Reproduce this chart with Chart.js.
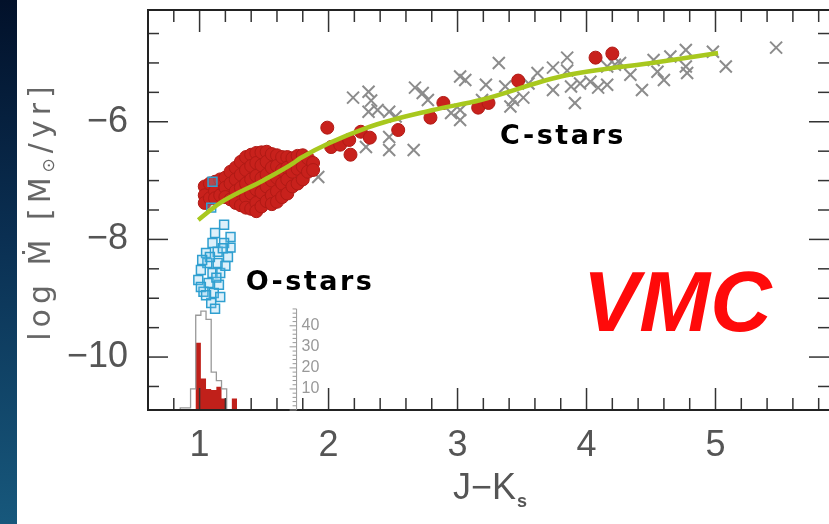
<!DOCTYPE html>
<html>
<head>
<meta charset="utf-8">
<script src="https://cdn.jsdelivr.net/npm/chart.js@4.4.1/dist/chart.umd.min.js"></script>
<style>
  html, body { margin: 0; padding: 0; background: #fff; overflow: hidden; }
  #strip { position: absolute; left: 0; top: 0; width: 17px; height: 524px;
    background: linear-gradient(to bottom, #02112a 0%, #0a2f52 45%, #17587c 100%); }
  #wrap { position: absolute; left: 0; top: 0; width: 829px; height: 524px; }
</style>
</head>
<body>
<div id="strip"></div>
<div id="wrap"><canvas id="myChart" width="829" height="524"></canvas></div>
<script>
// tick labels
const xTicks = [1, 2, 3, 4, 5];
const yTicks = [-10, -8, -6];
const histTicks = [10, 20, 30, 40];

// VMC carbon stars (red dots)
const vmcC = [
  [1.04, -7.10], [1.04, -7.25], [1.04, -7.38], [1.08, -7.05], [1.08, -7.30],
  [1.12, -7.02], [1.12, -7.18], [1.12, -7.30], [1.16, -6.98], [1.16, -7.25],
  [1.20, -6.95], [1.20, -7.12], [1.20, -7.28], [1.24, -6.85], [1.24, -7.05], [1.24, -7.32],
  [1.28, -6.78], [1.28, -6.98], [1.28, -7.18], [1.28, -7.38],
  [1.32, -6.68], [1.32, -6.90], [1.32, -7.12], [1.32, -7.42],
  [1.36, -6.60], [1.36, -6.82], [1.36, -7.05], [1.36, -7.28], [1.36, -7.46],
  [1.40, -6.56], [1.40, -6.75], [1.40, -6.98], [1.40, -7.22], [1.40, -7.48],
  [1.44, -6.53], [1.44, -6.70], [1.44, -6.92], [1.44, -7.15], [1.44, -7.38], [1.44, -7.52],
  [1.48, -6.52], [1.48, -6.74], [1.48, -6.96], [1.48, -7.20], [1.48, -7.44],
  [1.52, -6.51], [1.52, -6.68], [1.52, -6.90], [1.52, -7.10], [1.52, -7.35],
  [1.56, -6.55], [1.56, -6.78], [1.56, -7.00], [1.56, -7.25], [1.56, -7.40],
  [1.60, -6.57], [1.60, -6.75], [1.60, -6.95], [1.60, -7.18], [1.60, -7.36],
  [1.64, -6.60], [1.64, -6.82], [1.64, -7.05], [1.64, -7.28],
  [1.68, -6.60], [1.68, -6.78], [1.68, -6.98], [1.68, -7.22],
  [1.72, -6.62], [1.72, -6.85], [1.72, -7.10],
  [1.76, -6.58], [1.76, -6.80], [1.76, -7.05],
  [1.80, -6.57], [1.80, -6.76], [1.80, -6.98],
  [1.84, -6.62], [1.84, -6.85], [1.88, -6.70], [1.88, -6.82],
  [1.99, -6.10], [2.02, -6.43], [2.09, -6.39], [2.16, -6.31], [2.17, -6.56],
  [2.25, -6.17], [2.32, -6.27], [2.54, -6.14], [2.79, -5.93], [2.89, -5.68],
  [3.16, -5.76], [3.24, -5.68], [3.47, -5.30], [4.07, -4.91], [4.20, -4.84]
];

// other carbon stars (grey crosses)
const otherC = [
  [1.92, -6.94], [2.19, -5.59], [2.29, -6.43], [2.31, -5.49], [2.33, -5.64], [2.31, -5.83],
  [2.38, -5.80], [2.47, -5.83], [2.52, -5.91], [2.47, -6.26], [2.47, -6.48], [2.66, -6.48],
  [2.67, -5.42], [2.73, -5.51], [2.77, -5.63], [2.95, -5.85], [3.02, -5.80], [3.02, -5.97],
  [3.02, -5.23], [3.06, -5.29], [3.19, -5.63], [3.22, -5.37], [3.32, -5.00], [3.37, -5.40],
  [3.41, -5.74], [3.43, -5.63], [3.51, -5.59], [3.55, -5.35], [3.62, -5.17], [3.74, -5.08],
  [3.74, -5.46], [3.85, -4.91], [3.85, -5.13], [3.88, -5.40], [3.91, -5.68], [3.95, -5.35],
  [4.03, -5.32], [4.09, -5.42], [4.16, -5.37], [4.16, -5.06], [4.22, -5.03], [4.26, -5.00],
  [4.34, -5.20], [4.43, -5.46], [4.52, -4.95], [4.55, -5.15], [4.60, -5.29], [4.65, -4.89],
  [4.77, -4.78], [4.77, -5.06], [4.78, -5.17], [4.98, -4.81], [5.08, -5.06], [5.47, -4.74]
];

// oxygen-rich stars (blue squares)
const oStars = [
  [1.19, -7.75], [1.12, -7.89], [1.24, -7.96], [1.10, -8.06], [1.19, -8.06], [1.05, -8.23],
  [1.14, -8.21], [1.22, -8.30], [1.06, -8.40], [1.14, -8.40], [1.01, -8.52], [1.10, -8.57],
  [1.16, -8.57], [0.99, -8.69], [1.07, -8.74], [1.15, -8.77], [1.03, -8.89], [1.11, -8.91],
  [1.09, -9.08], [1.16, -8.98], [1.01, -8.81], [1.24, -8.14], [1.12, -9.18], [1.08, -8.30],
  [1.20, -8.45], [1.13, -8.65], [1.05, -8.95], [1.18, -8.15], [1.02, -8.35],
  [1.10, -7.02], [1.09, -7.46]
];

// fit curve
const fitX = [0.99, 1.16, 1.50, 1.73, 1.78, 2.30, 2.81, 3.18, 3.80, 4.57, 5.02];
const fitY = [-7.67, -7.38, -6.99, -6.70, -6.62, -6.10, -5.80, -5.63, -5.23, -4.98, -4.83];

// J-Ks histograms (counts)
const histEdges = [0.85, 0.89, 0.93, 0.97, 1.01, 1.05, 1.09, 1.13, 1.17, 1.21, 1.25, 1.29];
const histAll = [1, 1, 10, 45, 47, 43, 18, 14, 10, 0, 0];
const histVMC = [0, 0, 0, 32, 15, 10, 9.5, 11, 5.5, 0, 5.5];

const yTitle = ['log Ṁ [M', '⊙', '/yr]'];
const notes = [
  { text: 'C-stars', x: 3.33, y: -6.255, color: '#000', font: 'bold 27px "DejaVu Sans"', sp: '2.5px' },
  { text: 'O-stars', x: 1.357, y: -8.74, color: '#000', font: 'bold 27px "DejaVu Sans"', sp: '2.5px' },
  { text: 'VMC', x: 3.97, y: -9.16, color: '#ff0a0a', font: 'italic bold 85px "Liberation Sans"', sp: '0px' }
];

const pts = arr => arr.map(p => ({ x: p[0], y: p[1] }));

function stepPoints(edges, counts) {
  const out = [{ x: edges[0], y: 0 }];
  counts.forEach((c, i) => out.push({ x: edges[i], y: c }));
  out.push({ x: edges[edges.length - 1], y: 0 });
  return out;
}

const axisFont = { family: '"Liberation Sans", sans-serif', size: 36 };

function noPad(axis) {
  axis.paddingTop = 0;
  axis.paddingBottom = 0;
  axis.paddingLeft = 0;
  axis.paddingRight = 0;
}

const framePlugin = {
  id: 'frame',
  afterDatasetsDraw(chart) {
    const { ctx, chartArea: a, scales: { x, y, yh } } = chart;
    const seg = (x1, y1, x2, y2) => { ctx.beginPath(); ctx.moveTo(x1, y1); ctx.lineTo(x2, y2); ctx.stroke(); };
    ctx.save();
    ctx.strokeStyle = '#333';
    ctx.lineWidth = 1.5;
    for (let i = 3; i <= 29; i++) {
      const px = x.getPixelForValue(i / 5);
      const len = i % 5 === 0 ? 22 : 12;
      seg(px, a.bottom, px, a.bottom - len);
      seg(px, a.top, px, a.top + len);
    }
    for (let i = -21; i <= -9; i++) {
      const py = y.getPixelForValue(i / 2);
      const len = i % 4 === 0 ? 20 : 11;
      seg(a.left, py, a.left + len, py);
      seg(a.right, py, a.right - len, py);
    }
    ctx.strokeStyle = '#222';
    ctx.lineWidth = 2;
    ctx.strokeRect(a.left, a.top, a.right - a.left + 4, a.bottom - a.top);

    // histogram count ruler
    const rx = x.getPixelForValue(1.752);
    ctx.strokeStyle = '#999';
    ctx.lineWidth = 1;
    seg(rx, yh.getPixelForValue(0), rx, yh.getPixelForValue(48));
    for (let c = 0; c <= 48; c += 2) {
      const py = yh.getPixelForValue(c);
      seg(rx, py, rx - (c % 10 === 0 ? 7 : 4), py);
    }
    ctx.fillStyle = '#999';
    ctx.font = '16px "Liberation Sans", sans-serif';
    ctx.textAlign = 'left';
    ctx.textBaseline = 'middle';
    histTicks.forEach(c => ctx.fillText(String(c), rx + 5, yh.getPixelForValue(c)));
    ctx.restore();
  },
  afterDraw(chart) {
    const { ctx, chartArea: a, scales: { x, y } } = chart;
    ctx.save();
    // y title
    ctx.fillStyle = '#666';
    ctx.translate(a.left - 98, (a.top + a.bottom) / 2 + 1);
    ctx.rotate(-Math.PI / 2);
    ctx.letterSpacing = '5px';
    ctx.textBaseline = 'alphabetic';
    const big = '30px "DejaVu Sans", sans-serif';
    const small = '17px "DejaVu Sans", sans-serif';
    ctx.font = big;
    const w0 = ctx.measureText(yTitle[0]).width;
    const w2 = ctx.measureText(yTitle[2]).width;
    ctx.font = small;
    const w1 = ctx.measureText(yTitle[1]).width;
    let cx = -(w0 + w1 + w2) / 2;
    ctx.font = big;
    ctx.fillText(yTitle[0], cx, 0);
    cx += w0;
    ctx.font = small;
    ctx.fillText(yTitle[1], cx, 4);
    cx += w1;
    ctx.font = big;
    ctx.fillText(yTitle[2], cx, 0);
    ctx.restore();

    // x title
    ctx.save();
    ctx.fillStyle = '#555';
    ctx.textBaseline = 'alphabetic';
    ctx.font = '36px "Liberation Sans", sans-serif';
    const wj = ctx.measureText('J−K').width;
    const sx = (a.left + a.right) / 2 - (wj + 8) / 2;
    ctx.fillText('J−K', sx, a.bottom + 89);
    ctx.font = 'bold 18px "Liberation Sans", sans-serif';
    ctx.fillText('s', sx + wj + 1, a.bottom + 97);
    ctx.restore();

    // annotations
    notes.forEach(n => {
      ctx.save();
      ctx.fillStyle = n.color;
      ctx.font = n.font;
      ctx.letterSpacing = n.sp;
      ctx.textAlign = 'left';
      ctx.textBaseline = 'middle';
      ctx.fillText(n.text, x.getPixelForValue(n.x), y.getPixelForValue(n.y));
      ctx.restore();
    });
  }
};

document.addEventListener('DOMContentLoaded', function () {
  const canvas = document.getElementById('myChart');
  new Chart(canvas, {
    type: 'scatter',
    data: {
      datasets: [
        {
          label: 'fit',
          data: fitX.map((v, i) => ({ x: v, y: fitY[i] })),
          showLine: true,
          borderColor: '#a8c81e',
          borderWidth: 4.5,
          pointRadius: 0,
          cubicInterpolationMode: 'monotone',
          yAxisID: 'y'
        },
        {
          label: 'O-stars',
          data: pts(oStars),
          pointStyle: 'rect',
          pointRadius: 6.3,
          borderColor: '#2f9fd0',
          backgroundColor: 'rgba(120,195,235,0.25)',
          borderWidth: 1.5,
          yAxisID: 'y'
        },
        {
          label: 'VMC C-stars',
          data: pts(vmcC),
          pointStyle: 'circle',
          pointRadius: 6.5,
          backgroundColor: '#c8211c',
          borderColor: '#b01a15',
          borderWidth: 1,
          yAxisID: 'y'
        },
        {
          label: 'C-stars',
          data: pts(otherC),
          pointStyle: 'crossRot',
          pointRadius: 8.5,
          borderColor: '#8c8c8c',
          borderWidth: 2,
          yAxisID: 'y'
        },
        {
          label: 'all',
          data: stepPoints(histEdges, histAll),
          showLine: true,
          stepped: 'before',
          borderColor: '#999',
          borderWidth: 1.3,
          pointRadius: 0,
          fill: false,
          yAxisID: 'yh'
        },
        {
          label: 'VMC',
          data: stepPoints(histEdges, histVMC),
          showLine: true,
          stepped: 'before',
          borderWidth: 0,
          borderColor: 'rgba(0,0,0,0)',
          backgroundColor: '#c0201a',
          pointRadius: 0,
          fill: 'origin',
          yAxisID: 'yh'
        }
      ]
    },
    options: {
      responsive: false,
      animation: false,
      layout: { autoPadding: false, padding: { top: 10, right: 0, left: 0, bottom: 0 } },
      scales: {
        x: {
          type: 'linear',
          min: 0.6,
          max: 5.88,
          afterBuildTicks: axis => { axis.ticks = xTicks.map(v => ({ value: v })); },
          afterFit: axis => { axis.height = 114; noPad(axis); },
          grid: { display: false, drawTicks: false },
          border: { display: false },
          ticks: { font: axisFont, color: '#555', padding: 14, maxRotation: 0, callback: v => String(v) }
        },
        y: {
          type: 'linear',
          min: -10.9,
          max: -4.1,
          afterBuildTicks: axis => { axis.ticks = yTicks.map(v => ({ value: v })); },
          afterFit: axis => { axis.width = 148; noPad(axis); },
          grid: { display: false, drawTicks: false },
          border: { display: false },
          ticks: { font: axisFont, color: '#555', padding: 20, callback: v => '−' + Math.abs(v) }
        },
        yh: {
          type: 'linear',
          display: false,
          min: 0,
          max: 190
        }
      },
      plugins: {
        legend: { display: false },
        tooltip: { enabled: false }
      }
    },
    plugins: [framePlugin]
  });
});
</script>
</body>
</html>
